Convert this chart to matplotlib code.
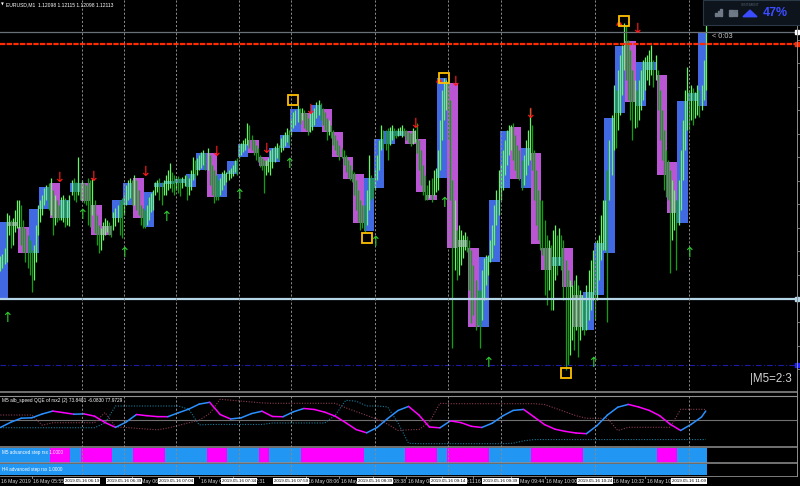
import matplotlib
matplotlib.use("Agg")
import matplotlib.pyplot as plt
import numpy as np
from matplotlib.patches import Rectangle, Polygon
from matplotlib.lines import Line2D

plt.rcParams['font.family'] = ['Liberation Sans', 'DejaVu Sans']

# layout works in screen pixels, like the terminal window
W, H = 800, 486
PLOT_R = 797          # price scale line
X_MIN, X_MAX = 0.82, 381.6   # in M1 bar index (bar 0 = 05:39)


def fx(x):
    return x / W


def fy(y):
    return 1 - y / H


# ---------------- data ----------------
# prices in points (0.00001) above 1.11757
# M5 boxes (open / close)
box_open = [89, 166, 161, 135, 179, 205, 170, 196, 205, 183,
            162, 170, 183, 210, 161, 201, 204, 205, 201, 218,
            235, 191, 214, 231, 248, 231, 226, 240, 256, 275,
            261, 279, 256, 231, 214, 157, 200, 244, 252, 257,
            249, 193, 210, 305, 148, 140, 61, 126, 200, 261,
            200, 235, 140, 122, 140, 93, 58, 93, 135, 275,
            347, 282, 318, 313, 226, 165, 287, 282]
box_close = [166, 162, 135, 179, 201, 170, 188, 205, 187, 153,
             153, 188, 205, 170, 196, 205, 207, 209, 214, 235,
             191, 214, 227, 244, 235, 222, 240, 253, 279, 256,
             283, 256, 231, 209, 165, 210, 249, 257, 257, 244,
             196, 188, 310, 140, 141, 61, 131, 188, 257, 209,
             240, 144, 118, 131, 101, 61, 96, 145, 270, 342,
             286, 326, 326, 213, 175, 287, 295, 356]

# M1 bars, five per M5 box
m1_hi = [126, 132, 134, 140, 175,  173, 168, 170, 178, 188,  188, 183, 168, 160, 153,
         148, 138, 143, 163, 183,  188, 193, 200, 203, 205,  210, 198, 193, 188, 183,
         191, 193, 190, 188, 193,  208, 210, 206, 231, 205,  208, 205, 203, 210, 208,
         210, 188, 173, 163, 160,  166, 170, 168, 166, 163,  176, 180, 183, 188, 190,
         193, 203, 208, 210, 208,  213, 208, 198, 183, 180,  178, 183, 191, 195, 198,
         206, 208, 210, 206, 208,  213, 218, 225, 216, 213,  210, 212, 210, 211, 213,
         213, 210, 218, 231, 228,  230, 233, 236, 238, 235,  240, 233, 223, 218, 213,
         208, 210, 216, 218, 216,  218, 220, 223, 228, 230,  243, 245, 248, 250, 265,
         263, 253, 248, 243, 240,  233, 230, 228, 228, 230,  238, 240, 242, 245, 243,
         250, 253, 256, 260, 258,  270, 276, 278, 283, 280,  280, 278, 275, 270, 276,
         276, 280, 286, 288, 285,  280, 276, 270, 268, 263,  258, 253, 248, 243, 240,
         238, 233, 228, 223, 218,  216, 208, 198, 188, 183,  183, 198, 233, 213, 210,
         218, 233, 248, 263, 258,  258, 260, 261, 263, 260,  258, 260, 261, 263, 260,
         258, 256, 255, 260, 258,  265, 248, 238, 223, 213,  203, 208, 210, 218, 220,
         238, 268, 298, 310, 308,  305, 288, 208, 188, 158,  163, 158, 153, 156, 152,
         148, 138, 123, 108, 98,   98, 118, 130, 133, 133,   148, 163, 183, 198, 218,
         223, 238, 248, 258, 263,  263, 265, 253, 243, 238,  228, 233, 248, 258, 280,
         263, 238, 218, 198, 188,  188, 168, 153, 148, 143,  158, 163, 153, 160, 153,
         148, 128, 118, 108, 103,  108, 113, 103, 98, 93,    88, 103, 118, 128, 138,
         128, 148, 153, 173, 188,  188, 218, 248, 273, 303,  298, 318, 333, 343, 365,
         363, 348, 338, 318, 308,  298, 308, 318, 328, 331,  333, 338, 343, 328, 333,
         318, 298, 278, 258, 238,  228, 218, 208, 198, 188,  208, 238, 268, 298, 321,
         298, 303, 300, 296, 303,  298, 303, 328, 365]
m1_lo = [88, 117, 120, 124, 126,   153, 140, 143, 156, 160,  160, 143, 136, 126, 120,
         113, 96, 108, 126, 153,   166, 173, 183, 188, 178,  173, 153, 163, 166, 168,
         168, 166, 161, 163, 162,  193, 188, 186, 193, 188,  188, 185, 183, 163, 161,
         173, 155, 143, 135, 138,  148, 153, 156, 153, 151,  158, 162, 166, 153, 150,
         173, 183, 188, 190, 183,  183, 178, 173, 163, 160,  160, 163, 168, 176, 178,
         193, 196, 188, 183, 193,  193, 198, 200, 196, 193,  198, 195, 192, 200, 202,
         188, 193, 198, 208, 210,  213, 218, 220, 223, 218,  218, 203, 193, 185, 188,
         188, 193, 198, 203, 206,  208, 210, 212, 216, 213,  230, 233, 236, 238, 243,
         240, 238, 233, 228, 226,  221, 218, 195, 213, 216,  213, 220, 226, 230, 228,
         236, 238, 242, 246, 243,  253, 260, 263, 266, 264,  268, 260, 258, 253, 256,
         258, 263, 270, 273, 268,  263, 258, 248, 253, 250,  243, 238, 233, 228, 230,
         223, 216, 210, 208, 206,  193, 178, 166, 158, 160,  156, 163, 178, 188, 190,
         198, 208, 218, 238, 240,  238, 228, 243, 248, 250,  250, 252, 253, 251, 252,
         248, 245, 242, 244, 246,  235, 218, 203, 193, 188,  188, 190, 186, 193, 196,
         198, 218, 248, 268, 278,  248, 188, 40, 118, 108,   113, 123, 130, 138, 136,
         98, 65, 73, 58, 63,       40, 68, 88, 103, 113,     126, 130, 143, 163, 173,
         188, 198, 213, 223, 233,  238, 228, 218, 210, 208,  198, 203, 213, 223, 228,
         218, 188, 163, 148, 138,  133, 93, 83, 98, 78,      78, 108, 113, 123, 118,
         88, 18, 23, 33, 48,       38, 58, 31, 48, 58,       53, 58, 68, 78, 88,
         68, 88, 108, 128, 138,    138, 66, 188, 213, 238,   240, 258, 273, 293, 318,
         308, 288, 268, 248, 260,  261, 268, 278, 288, 298,  308, 303, 313, 301, 308,
         278, 248, 228, 198, 191,  188, 115, 148, 158, 118,  163, 178, 208, 238, 258,
         258, 268, 263, 270, 273,  271, 278, 288, 298]

# signal arrows, squares (bar index, price points)
up_bar = [4, 40, 60, 80, 115, 139, 180, 213, 234, 284, 330]
up_pts = [70, 173, 135, 171, 193, 224, 146, 185, 25, 25, 135]
dn_bar = [29, 45, 70, 104, 128, 149, 199, 218, 254, 305]
dn_pts = [210, 211, 216, 236, 239, 278, 264, 306, 274, 359]
sq_bar = [141, 176, 213, 271, 299]
sq_pts = [288, 150, 310, 15, 367]
alert_bar = [211, 297]
alert_pts = [308, 365]

# horizontal levels
bid_level = 356
red_level = 344
blue_level = 89
dash_level = 23

# vertical period lines and their labels
sep_bars = [40, 60, 85, 115, 140, 180, 215, 240, 285, 330]
sep_labels = ['2019.05.16 06:19', '2019.05.16 06:39', '2019.05.16 07:04',
              '2019.05.16 07:34', '2019.05.16 07:59', '2019.05.16 08:39',
              '2019.05.16 09:14', '2019.05.16 09:39', '2019.05.16 10:24',
              '2019.05.16 11:09']
time_bars = [0.3, 16, 64, 96, 112, 147, 163, 179, 195, 212, 227, 245, 261, 293, 309]
time_labels = ['16 May 2019', '16 May 05:55', '16 May 06:43', '16 May 07:15',
               '16 May 07:31', '16 May 08:06', '16 May 08:22', '16 May 08:38',
               '16 May 08:54', '16 May 09:11', '16 May 09:26', '16 May 09:44',
               '16 May 10:00', '16 May 10:32', '16 May 10:48']

# QQE (one value per M5 bar + current)
qqe_main = [27.7, 42.5, 53.7, 54.8, 65.5, 73.6, 69.4, 64.9, 65.7, 59.3,
            41.6, 27.9, 42.5, 64.0, 60.7, 58.1, 57.9, 68.8, 79.1, 93.2,
            98.2, 64.0, 51.5, 54.8, 66.6, 73.3, 58.5, 57.8, 71.6, 80.9,
            78.1, 70.5, 59.3, 41.1, 21.8, 12.8, 27.7, 52.6, 75.3, 86.7,
            62.4, 29.0, 26.8, 46.1, 41.4, 31.0, 27.7, 39.7, 60.1, 75.5,
            78.3, 57.1, 35.8, 22.8, 16.7, 12.2, 10.4, 32.7, 62.4, 84.5,
            92.3, 85.0, 75.5, 60.7, 36.9, 19.3, 36.3, 57.1, 73.8]
qqe_fast = [27.1, 27.1, 27.1, 27.1, 27.1, 27.1, 27.1, 27.1, 27.1, 27.1,
            40.5, 87.9, 87.9, 87.9, 87.9, 87.9, 87.9, 87.9, 78.9, 35.0,
            36.1, 36.1, 36.1, 36.1, 36.1, 36.1, 40.3, 40.3, 40.3, 40.3,
            40.3, 40.3, 62.1, 103.8, 101.3, 87.9, 87.9, 85.3, 40.3, -16.6,
            -17.7, -17.7, -17.7, -17.7, -17.7, -17.7, -17.7, -17.7, -17.7, -16.3,
            -9.6, -6.1, -6.1, -6.1, -6.1, -6.1, -6.1, -6.1, -6.1, -6.1,
            -6.1, -6.1, -6.1, -6.1, -6.1, -6.1, -6.1, -6.1, -6.1]
qqe_slow = [62.7, 62.7, 62.7, 62.7, 34.1, 41.1, 41.1, 41.1, 41.1, 41.1,
            69.6, 29.3, 27.7, 25.4, 23.2, 21.2, 26.0, 33.5, 40.8, 48.1,
            66.9, 106.6, 104.1, 101.6, 99.1, 96.5, 95.4, 95.4, 95.4, 95.4,
            95.4, 95.4, 95.4, 82.8, 72.2, 61.5, 50.9, 37.2, 19.3, 21.2,
            22.1, 43.1, 95.4, 94.3, 94.3, 94.3, 94.3, 94.3, 94.3, 94.3,
            94.3, 94.3, 92.1, 81.7, 71.3, 60.7, 53.4, 53.4, 53.4, 19.0,
            28.2, 28.2, 28.2, 28.2, 28.2, 78.6, 78.6, 78.6, 78.0]

# advanced step rsx state per M5 bar (1 = down / magenta)
m5_step = [0, 0, 0, 0, 0, 1, 1, 0, 1, 1,
           1, 0, 0, 1, 1, 1, 0, 0, 0, 0,
           1, 1, 0, 0, 0, 1, 0, 0, 0, 1,
           1, 1, 1, 1, 1, 0, 0, 0, 0, 1,
           1, 1, 0, 1, 1, 1, 1, 0, 0, 0,
           0, 1, 1, 1, 1, 1, 0, 0, 0, 0,
           0, 0, 0, 1, 1, 0, 0, 0]
h4_step = [0] * 68

# ---------------- styles ----------------
BG = 'black'
BOX_UP, BOX_DN = '#4169e1', '#ba55d3'
BAR_UP, BAR_DN = '#66f566', '#12a012'
GRID = '#8a8a8a'
SEP = '#909090'
QQE_UP, QQE_DN = '#2a90ff', '#ff00ff'
STEP_UP, STEP_DN = '#2196f3', '#ff00ff'

n_bars = len(m1_hi)
last_edge = n_bars - 0.5

fig = plt.figure(figsize=(W / 100, H / 100), dpi=100, facecolor=BG)


def panel(top, bottom):
    a = fig.add_axes([0, fy(bottom), fx(PLOT_R), (bottom - top) / H])
    a.set_facecolor(BG)
    a.set_xlim(X_MIN, X_MAX)
    for s in a.spines.values():
        s.set_visible(False)
    a.set_xticks([])
    a.set_yticks([])
    return a


def period_lines(a):
    for b in sep_bars:
        a.axvline(b, color=GRID, lw=0.7, ls=(0, (2.2, 2.0)), zorder=4)


# ---- main chart ----
ax = panel(0, 390)
ax.set_ylim(-2, 388)

for k, (o, c) in enumerate(zip(box_open, box_close)):
    left = 5 * k - 0.5
    right = min(5 * k + 4.5, last_edge)
    lo, hgt = min(o, c), max(abs(c - o), 2)
    ax.add_patch(Rectangle((left, lo), right - left, hgt, lw=0,
                           color=BOX_UP if c >= o else BOX_DN, zorder=2))

hi = np.array(m1_hi)
lo = np.array(m1_lo)
mid = (hi + lo) / 2
rising = np.r_[True, mid[1:] >= mid[:-1]]
bar_cols = [BAR_UP if r else BAR_DN for r in rising]
ax.vlines(np.arange(n_bars), lo, hi, colors=bar_cols, lw=0.9, zorder=3)

ax.axhline(bid_level, color='#6a7078', lw=0.9, zorder=4)
ax.axhline(red_level, color='#ff2a00', lw=1.6, ls=(0, (2.4, 0.6)), zorder=4)
ax.axhline(blue_level, color='#b4d6e6', lw=1.6, zorder=4)
ax.axhline(dash_level, color='#1c1ca8', lw=0.8, ls=(0, (5, 2, 1, 2)), zorder=4)
period_lines(ax)

for b, p in zip(up_bar, up_pts):
    ax.text(b, p, '↑', color='#2fc42f', fontsize=10, ha='center', va='center',
            family='DejaVu Sans', zorder=6)
for b, p in zip(dn_bar, dn_pts):
    ax.text(b, p, '↓', color='#ff1a1a', fontsize=10, ha='center', va='center',
            family='DejaVu Sans', zorder=6)
for b, p in zip(alert_bar, alert_pts):
    ax.text(b, p, '▲▲', color='#ff2020', fontsize=3.5, ha='center', va='center',
            family='DejaVu Sans', zorder=6)
ax.plot(sq_bar, sq_pts, 's', ms=6.5, mfc='none', mec='#ffc000', mew=1.3, zorder=7)

# price scale ticks and tags on the right edge
ax.yaxis.tick_right()
ax.set_yticks(np.arange(371.5, -2, -23.5))
ax.tick_params(axis='y', direction='out', length=2, width=0.6, color=GRID,
               labelright=False)
for lvl, col in [(bid_level, 'white'), (red_level, '#ff2a00'),
                 (blue_level, '#b4d6e6'), (dash_level, '#2020ff')]:
    ax.plot([X_MAX], [lvl], 's', ms=3.2, color=col, clip_on=False, zorder=8)

fig.text(fx(712), fy(36), '< 0:03', color='#c8c8c8', fontsize=5.3, va='center')
fig.text(fx(750), fy(379), '|M5=2:3', color='#d4d4d4', fontsize=8.3, va='center')
fig.text(fx(1), fy(5), '▼', color='white', fontsize=2.6, va='center',
         family='DejaVu Sans')
fig.text(fx(6), fy(5), 'EURUSD,M1  1.12098 1.12115 1.12098 1.12113',
         color='white', fontsize=3.6, va='center')

# sentiment widget (top right)
fig.add_artist(Rectangle((fx(703), fy(25)), fx(98), 25 / H, transform=fig.transFigure,
                         fc='#0d141c', ec='#2b3846', lw=0.8, zorder=9))
icon = '#6f7a86'
for x0, h0 in [(715, 3), (717.5, 5), (720, 7)]:
    fig.add_artist(Rectangle((fx(x0), fy(16.5)), fx(1.6), h0 / H,
                             transform=fig.transFigure, color=icon, zorder=10))
for r in range(3):
    for c in range(4):
        fig.add_artist(Rectangle((fx(729 + 2.3 * c), fy(11.5 + 2.2 * r)), fx(1.5), 1.5 / H,
                                 transform=fig.transFigure, color=icon, zorder=10))
fig.add_artist(Polygon([(fx(743), fy(16.7)), (fx(757), fy(16.7)), (fx(750), fy(10.2))],
                       closed=True, transform=fig.transFigure, color='#3b4cff', zorder=10))
fig.text(fx(750), fy(5.5), 'SENTIMENT', color='#566473', fontsize=2.3,
         ha='center', va='center', zorder=10)
fig.text(fx(775.5), fy(13), '47%', color='#3b4cff', fontsize=9, fontweight='bold',
         ha='center', va='center', zorder=10)

# ---- QQE window ----
axq = panel(396, 446.5)
axq.set_ylim(-25.55, 115.85)
qx = np.append(np.arange(len(qqe_main) - 1) * 5 + 1, n_bars - 1)
axq.axhline(50, color='#707070', lw=0.8)
axq.plot(qx, qqe_slow, color='#8a3b50', lw=0.8, ls=(0, (1, 1.4)))
axq.plot(qx, qqe_fast, color='#157a98', lw=0.8, ls=(0, (1, 1.4)))
for j in range(len(qqe_main) - 1):
    col = QQE_UP if qqe_main[j + 1] >= qqe_main[j] else QQE_DN
    axq.plot(qx[j:j + 2], qqe_main[j:j + 2], color=col, lw=1.1,
             solid_capstyle='round')
period_lines(axq)
fig.text(fx(2), fy(400.5), 'M5 alb_speed QQE of rsx2 (2) 73.8481 -6.0830 77.9729',
         color='white', fontsize=3.4, va='center')


# ---- step rsx strips ----
def strip(top, bottom, states, label, label_y):
    a = panel(top, bottom)
    a.set_ylim(0, 1)
    for k, s in enumerate(states):
        left = 5 * k - 0.5
        right = min(5 * k + 4.5, last_edge)
        a.broken_barh([(left, right - left)], (0, 1),
                      color=STEP_DN if s else STEP_UP, lw=0)
    period_lines(a)
    fig.text(fx(2), fy(label_y), label, color='white', fontsize=3.3, va='center')
    return a


strip(448.3, 462.6, m5_step, 'M5 advanced step rsx 1.0000', 452.5)
strip(464.2, 475.3, h4_step, 'H4 advanced step rsx 1.0000', 469.5)

# ---- time axis ----
axt = panel(475.5, 486)
axt.set_ylim(0, 1)
for b, t in zip(time_bars, time_labels):
    axt.plot([b, b], [1.0, 0.8], color='#c0c0c0', lw=0.5)
    axt.text(b + 0.8, 0.45, t, color='#d8d8d8', fontsize=3.7, ha='left',
             va='center', clip_on=True)
for b, t in zip(sep_bars, sep_labels):
    axt.text(b, 0.45, t, color='black', fontsize=3.2, ha='center', va='center',
             bbox=dict(boxstyle='square,pad=0.25', fc='white', ec='none'), zorder=5)

# ---- window separators / borders ----
for y0, lw in [(391.8, 1.1), (395.5, 0.8), (447.4, 1.1), (463.4, 1.1), (475.5, 0.6)]:
    fig.add_artist(Line2D([0, fx(PLOT_R)], [fy(y0), fy(y0)], color=SEP, lw=lw,
                          transform=fig.transFigure))
fig.add_artist(Line2D([fx(PLOT_R), fx(PLOT_R)], [fy(0), fy(475.5)], color=SEP, lw=0.7,
                      transform=fig.transFigure))

fig.savefig('out.png', dpi=100, facecolor=BG)
